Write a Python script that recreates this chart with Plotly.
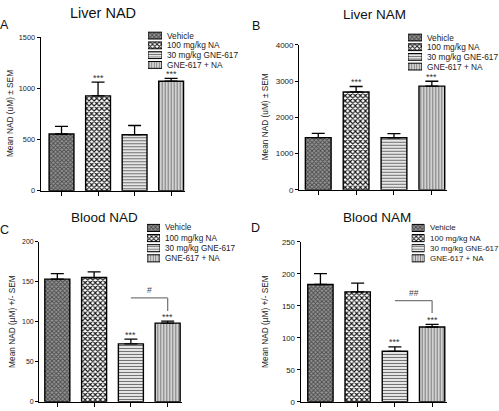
import plotly.graph_objects as go

# ---------------- data ----------------
groups = ["Vehicle", "100 mg/kg NA", "30 mg/kg GNE-617", "GNE-617 + NA"]

liver_nad_mean = [555, 927, 548, 1071]
liver_nad_sem = [74, 134, 90, 28]
liver_nad_sig = ["", "***", "", "***"]

liver_nam_mean = [1440, 2700, 1435, 2860]
liver_nam_sem = [115, 150, 115, 135]
liver_nam_sig = ["", "***", "", "***"]

blood_nad_mean = [153.5, 155.5, 72.5, 98.5]
blood_nad_sem = [7, 7, 6, 2.5]
blood_nad_sig = ["", "", "***", "***"]
blood_nad_bracket = [130, 113.5]   # horizontal level, end of drop
blood_nad_bracket_label = "#"

blood_nam_mean = [183.5, 172, 79, 117]
blood_nam_sem = [17, 13.5, 7, 4]
blood_nam_sig = ["", "", "***", "***"]
blood_nam_bracket = [158.3, 139]
blood_nam_bracket_label = "##"

titles = ["Liver NAD", "Liver NAM", "Blood NAD", "Blood NAM"]
letters = ["A", "B", "C", "D"]
ytitles = ["Mean NAD (uM) ± SEM", "Mean NAD (uM) ± SEM",
           "Mean NAD (µM) +/- SEM", "Mean NAD (µM) +/- SEM"]
y_max = [1500, 4000, 200, 250]
y_dtick = [500, 1000, 50, 50]

# ---------------- styling ----------------
W, H = 499, 411
FONT = "Arial, 'Liberation Sans', sans-serif"
pat_shape = ["x", "x", "-", "|"]
pat_fg = ["#4a4a4a", "#111111", "#707070", "#7c7c7c"]
pat_bg = ["#959595", "#ffffff", "#ffffff", "#e4e4e4"]
pat_size = [3, 3.6, 3, 3]
pat_sol = [0.5, 0.5, 0.45, 0.45]
leg_size = [3, 3.2, 2.5, 2.5]


def px(x):
    return x / W


def py(y):
    return 1 - y / H


geom = [
    dict(x0=40.7, x1=185, yt=34, yb=191, xr=[-0.57, 3.38]),
    dict(x0=299.3, x1=447, yt=41.7, yb=190, xr=[-0.5, 3.4]),
    dict(x0=39.3, x1=182, yt=243.3, yb=406.7, xr=[-0.49, 3.39]),
    dict(x0=300.7, x1=447, yt=243.3, yb=406.7, xr=[-0.53, 3.40]),
]
leg = [
    dict(x0=148, x1=162, yt=27.3, yb=67.3),
    dict(x0=408, x1=422, yt=29.35, yb=68.95),
    dict(x0=147, x1=160, yt=223.8, yb=265.2),
    dict(x0=411.7, x1=424.5, yt=223.8, yb=265.2),
]
title_pos = [(103, 9.5, 14.5), (374, 11, 13.5), (104, 218, 13.5), (377, 218, 13.5)]
letter_pos = [(4.5, 21), (256, 22.5), (4.5, 231), (256, 229)]
ytitle_x = [10, 265, 12, 265]
tick_fs = [7.3, 8, 7, 7.8]
leg_fs = [8.3, 8.3, 8.2, 8.0]

means = [liver_nad_mean, liver_nam_mean, blood_nad_mean, blood_nam_mean]
sems = [liver_nad_sem, liver_nam_sem, blood_nad_sem, blood_nam_sem]
sigs = [liver_nad_sig, liver_nam_sig, blood_nad_sig, blood_nam_sig]

fig = go.Figure()
annotations = []
shapes = []
layout_axes = {}

for i in range(4):
    g = geom[i]
    ax_main = 2 * i + 1
    ax_leg = 2 * i + 2
    xname = "x" if ax_main == 1 else f"x{ax_main}"
    yname = "y" if ax_main == 1 else f"y{ax_main}"
    xkey = "xaxis" if ax_main == 1 else f"xaxis{ax_main}"
    ykey = "yaxis" if ax_main == 1 else f"yaxis{ax_main}"

    for j in range(4):
        fig.add_trace(go.Bar(
            x=[j], y=[means[i][j]], width=0.68, name=groups[j],
            xaxis=xname, yaxis=yname, showlegend=False,
            marker=dict(color=pat_bg[j], line=dict(color="black", width=1.4),
                        pattern=dict(shape=pat_shape[j], fgcolor=pat_fg[j],
                                     bgcolor=pat_bg[j], size=pat_size[j],
                                     solidity=pat_sol[j], fillmode="replace")),
            error_y=dict(type="data", symmetric=False, array=[sems[i][j]],
                         arrayminus=[0], color="black", thickness=1.3, width=6.5),
        ))
    layout_axes[xkey] = dict(
        domain=[px(g["x0"]), px(g["x1"])], range=g["xr"], anchor=yname,
        tickvals=list(range(4)), showticklabels=False, ticks="outside", ticklen=4,
        tickwidth=1.2, tickcolor="black", showline=True, linecolor="black",
        linewidth=1.4, showgrid=False, zeroline=False, fixedrange=True)
    layout_axes[ykey] = dict(
        domain=[py(g["yb"]), py(g["yt"])], range=[0, y_max[i]], anchor=xname,
        dtick=y_dtick[i], tick0=0, ticks="outside", ticklen=3, tickwidth=1.2,
        tickcolor="black", showline=True, linecolor="black", linewidth=1.4,
        showgrid=False, zeroline=False,
        tickfont=dict(family=FONT, size=tick_fs[i], color="#222"), fixedrange=True)

    for j in range(4):
        if sigs[i][j]:
            annotations.append(dict(
                x=j, y=means[i][j] + sems[i][j], xref=xname, yref=yname,
                text=sigs[i][j], showarrow=False, yanchor="bottom", yshift=-2.5,
                font=dict(family=FONT, size=9, color="#333")))

    # legend: tiny axis with patterned boxes
    L = leg[i]
    lx = f"x{ax_leg}"
    ly = f"y{ax_leg}"
    for j in range(4):
        fig.add_trace(go.Bar(
            x=[1], y=[j], orientation="h", width=0.7,
            xaxis=lx, yaxis=ly, showlegend=False, hoverinfo="skip",
            marker=dict(color=pat_bg[j], line=dict(color="black", width=1),
                        pattern=dict(shape=pat_shape[j], fgcolor=pat_fg[j],
                                     bgcolor=pat_bg[j], size=leg_size[j],
                                     solidity=pat_sol[j], fillmode="replace")),
        ))
    layout_axes[f"xaxis{ax_leg}"] = dict(domain=[px(L["x0"]), px(L["x1"])], range=[0, 1],
                                         visible=False, anchor=ly, fixedrange=True)
    layout_axes[f"yaxis{ax_leg}"] = dict(domain=[py(L["yb"]), py(L["yt"])], range=[3.5, -0.5],
                                         visible=False, anchor=lx, fixedrange=True)
    for j, name in enumerate(groups):
        annotations.append(dict(
            x=px(L["x1"] + 3), y=j, xref="paper", yref=ly, text=name,
            showarrow=False, xanchor="left", yanchor="middle",
            font=dict(family=FONT, size=leg_fs[i], color="#222")))

    tx, ty, tfs = title_pos[i]
    annotations.append(dict(x=px(tx), y=py(ty), xref="paper", yref="paper",
                            text=titles[i], showarrow=False, xanchor="center",
                            yanchor="middle", font=dict(family=FONT, size=tfs, color="#111")))
    lxp, lyp = letter_pos[i]
    annotations.append(dict(x=px(lxp), y=py(lyp), xref="paper", yref="paper",
                            text=letters[i], showarrow=False, xanchor="center",
                            yanchor="middle", font=dict(family=FONT, size=12.5, color="#111")))
    annotations.append(dict(x=px(ytitle_x[i]), y=py((g["yt"] + g["yb"]) / 2),
                            xref="paper", yref="paper", text=ytitles[i], textangle=-90,
                            showarrow=False, xanchor="center", yanchor="middle",
                            font=dict(family=FONT, size=8.3, color="#222")))

for ax, br, lab in [(5, blood_nad_bracket, blood_nad_bracket_label),
                    (7, blood_nam_bracket, blood_nam_bracket_label)]:
    xr, yr = f"x{ax}", f"y{ax}"
    shapes.append(dict(type="line", xref=xr, yref=yr, x0=2, x1=3, y0=br[0], y1=br[0],
                       line=dict(color="#7a7a7a", width=1.3)))
    shapes.append(dict(type="line", xref=xr, yref=yr, x0=3, x1=3, y0=br[0], y1=br[1],
                       line=dict(color="#7a7a7a", width=1.3)))
    annotations.append(dict(x=2.5, y=br[0], xref=xr, yref=yr, text=lab, showarrow=False,
                            yanchor="bottom", yshift=1,
                            font=dict(family=FONT, size=8.5, color="#444")))

fig.update_layout(
    width=W, height=H, autosize=False,
    margin=dict(l=0, r=0, t=0, b=0),
    paper_bgcolor="white", plot_bgcolor="white",
    barmode="overlay", showlegend=False,
    annotations=annotations, shapes=shapes,
    **layout_axes,
)

fig.write_html("out.html", config={"displayModeBar": False},
               post_script="document.body.style.margin='0';document.body.style.overflow='hidden';")
